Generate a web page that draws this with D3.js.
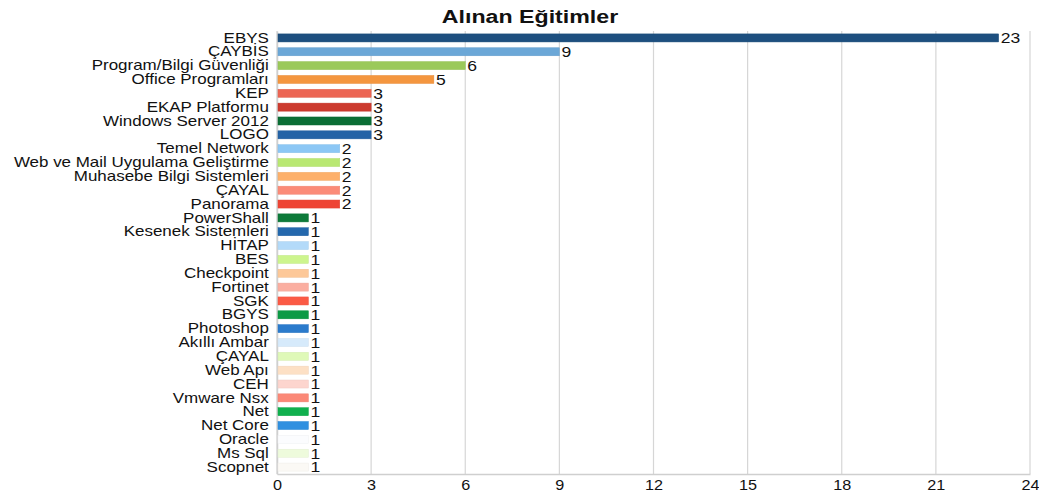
<!DOCTYPE html>
<html><head><meta charset="utf-8">
<script src="https://cdn.jsdelivr.net/npm/d3@7"></script>
<style>body{margin:0;background:#fff;}svg{display:block;font-family:"Liberation Sans",Arial,Helvetica,sans-serif;}</style>
</head><body>
<svg id="c" width="1039" height="495"></svg>
<script>
const categories = ["EBYS","ÇAYBİS","Program/Bilgi Güvenliği","Office Programları","KEP","EKAP Platformu","Windows Server 2012","LOGO","Temel Network","Web ve Mail Uygulama Geliştirme","Muhasebe Bilgi Sistemleri","ÇAYAL","Panorama","PowerShall","Kesenek Sistemleri","HİTAP","BES","Checkpoint","Fortinet","SGK","BGYS","Photoshop","Akıllı Ambar","ÇAYAL","Web Apı","CEH","Vmware Nsx","Net","Net Core","Oracle","Ms Sql","Scopnet"];
const values = [23,9,6,5,3,3,3,3,2,2,2,2,2,1,1,1,1,1,1,1,1,1,1,1,1,1,1,1,1,1,1,1];
const colors = ["#1d4f7f","#6ba7d7","#9bc95a","#f4963f","#ec6553","#cc3a2e","#0b6e35","#2563a6","#8cc7f5","#b9e872","#fdb06b","#fb8b78","#ee4434","#0d7a3a","#2468ad","#b3daf9","#cdf58e","#fdc898","#fbaea0","#fb5a45","#0c9a45","#2b7bcc","#d6eafb","#dff9b8","#fde0c5","#fdd5ce","#fb8877","#10b04e","#3090e0","#fbfcfe","#eefbdc","#fbf9f5"];
const tickValues = [0,3,6,9,12,15,18,21,24];
const title = "Alınan Eğitimler";

const SX = 1.17; // horizontal stretch of the reference text
const svg = d3.select("#c");
const m = {left:277, right:1030, top:31, bottom:474};
const x = d3.scaleLinear().domain([0,24]).range([m.left, m.right]);
const idx = categories.map((d,i)=>i);
const y = d3.scaleBand().domain(idx).range([m.top, m.bottom]).paddingInner(0.42).paddingOuter(0.21);

// gridlines
svg.append("g").selectAll("line").data(tickValues).join("line")
  .attr("x1",d=>x(d)).attr("x2",d=>x(d)).attr("y1",m.top).attr("y2",m.bottom)
  .attr("stroke","#d6d6d6").attr("stroke-width",1.2);

// x axis
const xa = svg.append("g").attr("transform",`translate(0,${m.bottom})`)
  .call(d3.axisBottom(x).tickValues(tickValues).tickSize(0).tickPadding(5));
xa.select(".domain").attr("stroke","#cfcfcf").attr("stroke-width",1.5);
xa.selectAll("text").attr("font-size",15).attr("fill","#111")
  .attr("font-family","Liberation Sans, Arial, sans-serif")
  .attr("transform","scale(1.08,1)");

// y axis
const ya = svg.append("g").attr("transform",`translate(${m.left},0)`)
  .call(d3.axisLeft(y).tickFormat(i=>categories[i]).tickSize(0).tickPadding(7));
ya.select(".domain").attr("stroke","#cfcfcf").attr("stroke-width",1.5);
ya.selectAll("text").attr("font-size",14.5).attr("fill","#111")
  .attr("font-family","Liberation Sans, Arial, sans-serif")
  .attr("transform",`scale(${SX},1)`);

// bars
svg.append("g").selectAll("rect").data(idx).join("rect")
  .attr("x",x(0)+1).attr("y",i=>y(i))
  .attr("width",i=>x(values[i])-x(0)-1).attr("height",y.bandwidth())
  .attr("fill",i=>colors[i])
  .attr("stroke",i=>d3.color(colors[i]).darker(0.15)).attr("stroke-width",0.5);

// value labels
svg.append("g").selectAll("text").data(idx).join("text")
  .attr("transform",i=>`translate(${x(values[i])+2},${y(i)+y.bandwidth()/2}) scale(${SX},1)`)
  .attr("dy","0.36em").attr("font-size",15).attr("fill","#111")
  .text(i=>values[i]);

// title
svg.append("text").attr("transform",`translate(530,23) scale(${SX + 0.05},1)`).attr("text-anchor","middle")
  .attr("font-size",19).attr("font-weight","bold").attr("fill","#111").text(title);
</script>
</body></html>
